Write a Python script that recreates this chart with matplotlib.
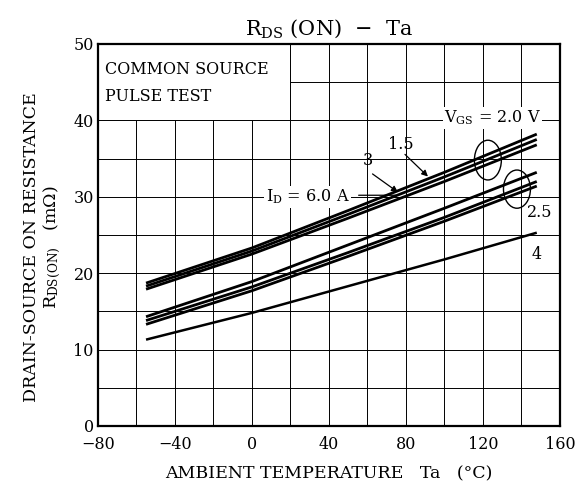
import matplotlib
matplotlib.use("Agg")
import matplotlib.pyplot as plt
from matplotlib.patches import Rectangle, Ellipse

plt.rcParams['font.family'] = ['DejaVu Serif']
plt.rcParams['mathtext.fontset'] = 'dejavuserif'

# Data
temps = [-55, 0, 50, 100, 148]
vgs20_id6 = [18.7, 23.3, 28.2, 33.2, 38.2]
vgs20_id3 = [18.3, 22.9, 27.7, 32.6, 37.5]
vgs20_id15 = [17.9, 22.5, 27.2, 32.0, 36.8]
vgs25_a = [14.3, 18.9, 23.7, 28.5, 33.2]
vgs25_b = [13.8, 18.2, 22.7, 27.3, 32.0]
vgs25_c = [13.3, 17.7, 22.2, 26.8, 31.4]
vgs40 = [11.3, 14.8, 18.3, 21.8, 25.3]

xticks = [-80, -40, 0, 40, 80, 120, 160]
xticklabels = ['\u221280', '\u221240', '0', '40', '80', '120', '160']
yticks = [0, 10, 20, 30, 40, 50]

fig = plt.figure(figsize=(5.76, 4.94), dpi=100)
ax = fig.add_axes([0.170, 0.1377, 0.802, 0.7733])
ax.set_xlim(-80, 160)
ax.set_ylim(0, 50)

ax.set_xticks(xticks)
ax.set_xticklabels(xticklabels)
ax.set_yticks(yticks)
ax.set_xticks(range(-80, 161, 20), minor=True)
ax.set_yticks(range(0, 51, 5), minor=True)
ax.tick_params(which='both', length=0, labelsize=11.5)
ax.tick_params(axis='x', pad=7)
ax.tick_params(axis='y', pad=3)
ax.grid(which='both', color='black', linewidth=0.7)
ax.set_axisbelow(True)
for sp in ax.spines.values():
    sp.set_linewidth(1.6)

# white box for legend text
ax.add_patch(Rectangle((-80, 40), 100, 10, facecolor='white', edgecolor='black',
                       linewidth=0.7, zorder=1.5))
ax.text(-76.5, 46.6, 'COMMON SOURCE', fontsize=11.5, va='center', ha='left', zorder=3)
ax.text(-76.5, 43.1, 'PULSE TEST', fontsize=11.5, va='center', ha='left', zorder=3)

for ys in [vgs20_id6, vgs20_id3, vgs20_id15, vgs25_a, vgs25_b, vgs25_c]:
    ax.plot(temps, ys, color='black', linewidth=2.0, solid_capstyle='butt', zorder=2)
ax.plot(temps, vgs40, color='black', linewidth=1.8, solid_capstyle='butt', zorder=2)

bbox = dict(facecolor='white', edgecolor='none', pad=1)
ax.text(125, 40.3, r'V$_{\mathrm{GS}}$ = 2.0 V', fontsize=11.5, ha='center', va='center',
        bbox=bbox, zorder=3)
ax.text(29, 30.0, r'I$_{\mathrm{D}}$ = 6.0 A', fontsize=11.5, ha='center', va='center',
        bbox=bbox, zorder=3)
ax.text(77.5, 36.9, '1.5', fontsize=11.5, ha='center', va='center', zorder=3)
ax.text(60, 34.8, '3', fontsize=11.5, ha='center', va='center', zorder=3)
ax.text(149.5, 28.0, '2.5', fontsize=11.5, ha='center', va='center', bbox=bbox, zorder=3)
ax.text(148, 22.4, '4', fontsize=11.5, ha='center', va='center', bbox=bbox, zorder=3)

arrowprops = dict(arrowstyle='-|>', color='black', linewidth=0.9, mutation_scale=9)
ax.annotate('', xy=(92.5, 32.4), xytext=(78.5, 35.8), arrowprops=arrowprops, zorder=3)
ax.annotate('', xy=(77, 30.4), xytext=(61.5, 33.2), arrowprops=arrowprops, zorder=3)
ax.annotate('', xy=(76, 30.2), xytext=(54, 30.2), arrowprops=dict(arrowstyle='-', color='black', linewidth=0.9), zorder=3)

ax.add_patch(Ellipse((122.6, 34.8), 14, 5.2, fill=False, edgecolor='black', linewidth=1.0, zorder=3))
ax.add_patch(Ellipse((137.7, 31.0), 14, 5.0, fill=False, edgecolor='black', linewidth=1.0, zorder=3))

ax.set_title(r'R$_{\mathrm{DS}}$ (ON)  $-$  Ta', fontsize=15, pad=7)
ax.set_xlabel('AMBIENT TEMPERATURE   Ta   (\u00b0C)', fontsize=12.5, labelpad=9)
fig.text(0.055, 0.50, 'DRAIN-SOURCE ON RESISTANCE', rotation=90, fontsize=12.5,
         ha='center', va='center')
fig.text(0.090, 0.50, r'R$_{\mathrm{DS(ON)}}$   (m$\Omega$)', rotation=90, fontsize=12.5,
         ha='center', va='center')

fig.savefig('out.png', dpi=100)
